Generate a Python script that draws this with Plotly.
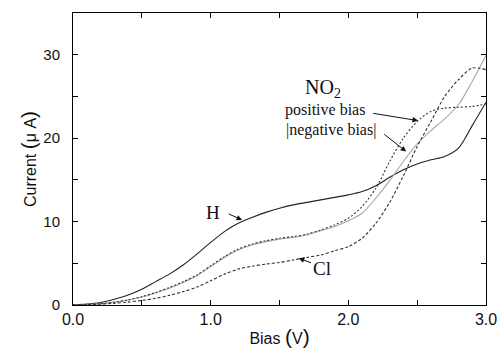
import plotly.graph_objects as go

# ---- data ----
bias = [round(0.1 * i, 1) for i in range(31)]  # 0.0 .. 3.0 V, reading grid

cur_h = [0, 0.1, 0.3, 0.7, 1.2, 1.9, 2.8, 3.7, 4.8, 6.1, 7.5, 8.8, 9.8, 10.5, 11.1, 11.6,
         12.0, 12.3, 12.6, 12.9, 13.2, 13.6, 14.3, 15.3, 16.2, 16.9, 17.4, 17.8, 18.8, 21.5, 24.3]
cur_no2_pos = [0, 0.05, 0.15, 0.35, 0.6, 1.0, 1.5, 2.1, 2.8, 3.6, 4.7, 5.8, 6.7, 7.3, 7.7, 8.0,
               8.2, 8.5, 9.0, 9.6, 10.4, 11.8, 14.0, 17.2, 20.0, 22.0, 23.2, 23.6, 23.7, 23.8, 24.1]
cur_no2_neg = [0, 0.05, 0.15, 0.33, 0.6, 0.95, 1.45, 2.0, 2.7, 3.5, 4.6, 5.7, 6.6, 7.2, 7.6, 7.9,
               8.1, 8.4, 8.9, 9.4, 10.1, 11.0, 12.8, 14.9, 17.2, 19.3, 20.9, 22.3, 24.0, 26.8, 29.9]
cur_cl = [0, 0.03, 0.1, 0.2, 0.35, 0.55, 0.8, 1.15, 1.6, 2.15, 2.9, 3.7, 4.3, 4.65, 4.9, 5.1,
          5.4, 5.7, 6.0, 6.5, 7.0, 8.0, 9.8, 12.3, 15.5, 19.0, 22.0, 25.0, 27.0, 28.4, 28.2]

x_tickvals = [0, 0.5, 1.0, 1.5, 2.0, 2.5, 3.0]
x_ticktext = ["0.0", "", "1.0", "", "2.0", "", "3.0"]
y_tickvals = [0, 5, 10, 15, 20, 25, 30, 35]
y_ticktext = ["0", "", "10", "", "20", "", "30", ""]

fig = go.Figure()
fig.add_trace(go.Scatter(x=bias, y=cur_h, mode="lines", name="H",
                         line=dict(color="#222222", width=1.1, shape="spline", smoothing=0.8)))
fig.add_trace(go.Scatter(x=bias, y=cur_no2_neg, mode="lines", name="NO2 |negative bias|",
                         line=dict(color="#a8a8a8", width=1.1, shape="spline", smoothing=0.8)))
fig.add_trace(go.Scatter(x=bias, y=cur_no2_pos, mode="lines", name="NO2 positive bias",
                         line=dict(color="#333333", width=1.1, shape="spline", smoothing=0.8, dash="2px,2px")))
fig.add_trace(go.Scatter(x=bias, y=cur_cl, mode="lines", name="Cl",
                         line=dict(color="#333333", width=1.1, shape="spline", smoothing=0.8, dash="3px,2px")))

serif = "Liberation Serif, Times New Roman, serif"
ann = []
def label(x, y, text, size):
    ann.append(dict(x=x, y=y, xref="x", yref="y", text=text, showarrow=False,
                    font=dict(family=serif, size=size, color="#111111")))
def arrow(x0, y0, x1, y1):
    ann.append(dict(x=x1, y=y1, ax=x0, ay=y0, xref="x", yref="y", axref="x", ayref="y",
                    text="", showarrow=True, arrowhead=2, arrowsize=1.1, arrowwidth=1,
                    arrowcolor="#111111"))

label(1.017, 11.1, "H", 19)
arrow(1.12, 11.0, 1.228, 10.2)
label(1.81, 4.4, "Cl", 19)
arrow(1.74, 5.0, 1.64, 5.6)
label(1.816, 26.0, "NO<sub>2</sub>", 20)
label(1.83, 23.4, "positive bias", 16)
arrow(2.17, 23.0, 2.506, 22.1)
label(1.874, 21.0, "|negative bias|", 16)
arrow(2.25, 20.6, 2.42, 18.4)

sans = "Liberation Sans, Arial, sans-serif"
axis_common = dict(showline=True, linecolor="black", linewidth=1, mirror="ticks",
                   ticks="inside", ticklen=5, tickwidth=1, tickcolor="black",
                   showgrid=False, zeroline=False, automargin=False)

fig.update_layout(
    width=498, height=348,
    margin=dict(l=73, r=12, t=13, b=43),
    plot_bgcolor="white", paper_bgcolor="white",
    showlegend=False,
    annotations=ann,
    xaxis=dict(range=[0, 3], tickvals=x_tickvals, ticktext=x_ticktext,
               tickfont=dict(family=sans, size=16, color="#111111"),
               title=dict(text='Bias <span style="font-size:21px">(</span>V<span style="font-size:21px">)</span>',
                          font=dict(family=sans, size=16, color="#111111"),
                          standoff=5),
               **axis_common),
    yaxis=dict(range=[0, 35], tickvals=y_tickvals, ticktext=y_ticktext,
               tickfont=dict(family=sans, size=15, color="#111111"),
               ticklabelstandoff=9,
               title=dict(text='Current <span style="font-size:21px">(</span>μ A<span style="font-size:21px">)</span>',
                          font=dict(family=sans, size=16, color="#111111"),
                          standoff=2),
               **axis_common),
)

fig.write_html("out.html", config={"displayModeBar": False},
               post_script="document.body.style.margin='0';document.body.style.overflow='hidden';")
